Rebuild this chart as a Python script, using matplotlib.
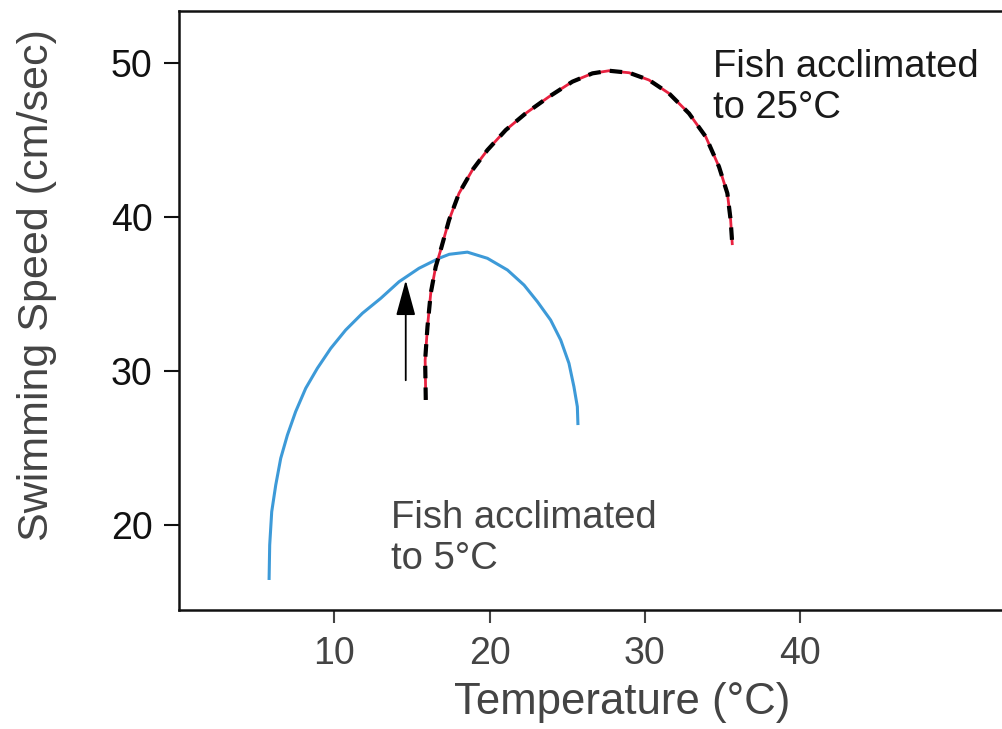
import matplotlib
matplotlib.use("Agg")
import matplotlib.pyplot as plt

plt.rcParams['font.family'] = ['Liberation Sans', 'DejaVu Sans']

# Fish acclimated to 5 °C (blue)
temp_5 = [5.80, 5.84, 5.97, 6.23, 6.55, 6.98, 7.51, 8.16, 8.91, 9.77, 10.73,
          11.81, 12.99, 14.17, 15.45, 16.74, 17.40, 18.57, 19.86, 21.15,
          22.22, 23.08, 23.93, 24.58, 25.11, 25.43, 25.65, 25.69]
speed_5 = [16.43, 18.70, 20.86, 22.60, 24.33, 25.84, 27.36, 28.88, 30.18,
           31.47, 32.66, 33.75, 34.72, 35.80, 36.67, 37.32, 37.58, 37.72,
           37.32, 36.56, 35.58, 34.50, 33.31, 32.01, 30.50, 28.98, 27.68,
           26.49]

# Fish acclimated to 25 °C (red with black dashes)
temp_25 = [15.89, 15.85, 16.00, 16.21, 16.53, 16.85, 17.39, 18.03, 18.89,
           19.86, 21.04, 22.32, 23.82, 25.33, 26.62, 27.69, 28.98, 30.26,
           31.55, 32.84, 33.92, 34.77, 35.31, 35.52, 35.63]
speed_25 = [28.12, 30.71, 32.88, 35.05, 36.77, 37.86, 39.81, 41.54, 43.05,
            44.35, 45.65, 46.73, 47.81, 48.79, 49.33, 49.50, 49.37, 48.90,
            48.03, 46.73, 45.21, 43.27, 41.54, 39.81, 38.18]

x_ticks = [10, 20, 30, 40]
y_ticks = [20, 30, 40, 50]

fig = plt.figure(figsize=(10.03, 7.29), dpi=100)
ax = fig.add_axes([179 / 1003, 119 / 729, 824 / 1003, 599 / 729])
ax.set_xlim(0, 824 / 15.53)
ax.set_ylim(14.48, 53.38)

ax.plot(temp_5, speed_5, color='#3d9ad8', lw=2.2, solid_capstyle='butt')
ax.plot(temp_25, speed_25, color='#e8213f', lw=2.0, solid_capstyle='butt')
ax.plot(temp_25, speed_25, color='black', lw=3.0, dashes=(3, 2.2),
        dash_capstyle='butt')

# arrow showing the shift
ax.annotate('', xy=(14.6, 35.9), xytext=(14.6, 29.4),
            arrowprops=dict(arrowstyle='-|>,head_length=2.2,head_width=0.6',
                            color='black', lw=1.3, shrinkA=0, shrinkB=0))

ax.text(34.37, 48.4, 'Fish acclimated\nto 25°C', fontsize=27.5,
        color='#1a1a1a', ha='left', va='center', linespacing=1.17)
ax.text(13.63, 19.1, 'Fish acclimated\nto 5°C', fontsize=27.5,
        color='#454545', ha='left', va='center', linespacing=1.17)

ax.set_xticks(x_ticks)
ax.set_yticks(y_ticks)
ax.tick_params(axis='x', direction='out', length=9, width=1.5,
               labelsize=27, pad=10, colors='#444444')
ax.tick_params(axis='y', direction='out', length=11, width=1.5,
               labelsize=27, pad=8, colors='#111111')

for side in ['left', 'bottom', 'top']:
    ax.spines[side].set_linewidth(1.8)
    ax.spines[side].set_color('#111111')
ax.spines['right'].set_visible(False)

ax.set_xlabel('Temperature (°C)', fontsize=31.5, color='#444444')
ax.xaxis.set_label_coords((622 - 179) / 824, -(682 - 610) / 599)
ax.set_ylabel('Swimming Speed (cm/sec)', fontsize=31, color='#444444')
ax.yaxis.set_label_coords(-(179 - 57) / 824, (610 - 285) / 599)

fig.savefig('out.png', dpi=100, facecolor='white')
